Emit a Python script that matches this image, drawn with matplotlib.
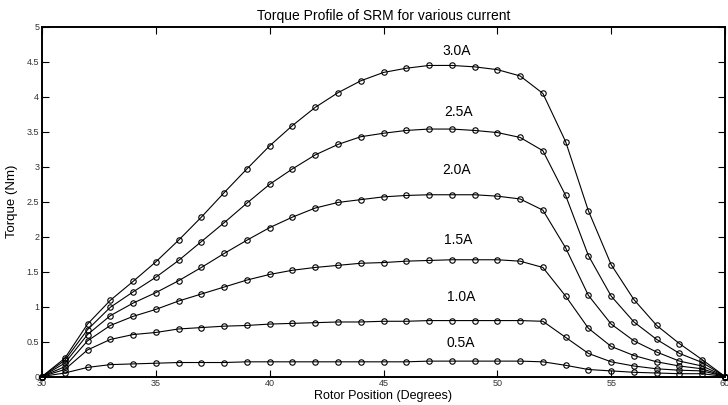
import numpy as np
import matplotlib
matplotlib.use("Agg")
import matplotlib.pyplot as plt

plt.rcParams['font.family'] = ['Liberation Sans', 'DejaVu Sans']

# rotor position in degrees, one sample per degree
position = np.arange(30, 61)

torque_3_0 = [0, 0.26, 0.75, 1.09, 1.36, 1.64, 1.95, 2.28, 2.63, 2.97, 3.30, 3.59, 3.85, 4.06, 4.23, 4.35,
              4.41, 4.45, 4.45, 4.43, 4.39, 4.30, 4.05, 3.36, 2.37, 1.60, 1.10, 0.73, 0.47, 0.24, 0]
torque_2_5 = [0, 0.23, 0.67, 0.99, 1.21, 1.42, 1.66, 1.93, 2.20, 2.48, 2.75, 2.97, 3.17, 3.32, 3.43, 3.48,
              3.52, 3.54, 3.54, 3.52, 3.49, 3.42, 3.23, 2.59, 1.73, 1.15, 0.78, 0.53, 0.33, 0.20, 0]
torque_2_0 = [0, 0.19, 0.60, 0.87, 1.05, 1.20, 1.37, 1.56, 1.76, 1.95, 2.13, 2.28, 2.41, 2.49, 2.53, 2.57,
              2.59, 2.60, 2.60, 2.60, 2.58, 2.54, 2.38, 1.84, 1.16, 0.75, 0.51, 0.35, 0.22, 0.15, 0]
torque_1_5 = [0, 0.14, 0.51, 0.73, 0.86, 0.96, 1.08, 1.18, 1.28, 1.38, 1.46, 1.52, 1.56, 1.59, 1.62, 1.63,
              1.65, 1.66, 1.67, 1.67, 1.67, 1.65, 1.56, 1.15, 0.69, 0.43, 0.30, 0.21, 0.15, 0.11, 0]
torque_1_0 = [0, 0.10, 0.38, 0.53, 0.60, 0.63, 0.68, 0.70, 0.72, 0.73, 0.75, 0.76, 0.77, 0.78, 0.78, 0.79,
              0.79, 0.80, 0.80, 0.80, 0.80, 0.80, 0.79, 0.56, 0.33, 0.21, 0.15, 0.11, 0.09, 0.08, 0]
torque_0_5 = [0, 0.05, 0.13, 0.17, 0.18, 0.19, 0.20, 0.20, 0.20, 0.21, 0.21, 0.21, 0.21, 0.21, 0.21, 0.21,
              0.21, 0.22, 0.22, 0.22, 0.22, 0.22, 0.21, 0.16, 0.10, 0.08, 0.06, 0.05, 0.04, 0.04, 0]

current_labels = ['3.0A', '2.5A', '2.0A', '1.5A', '1.0A', '0.5A']
series = [torque_3_0, torque_2_5, torque_2_0, torque_1_5, torque_1_0, torque_0_5]

# where the current labels sit, in data coordinates
label_x = [48.2, 48.3, 48.2, 48.3, 48.4, 48.4]
label_y = [4.66, 3.78, 2.96, 1.95, 1.14, 0.48]

fig = plt.figure(figsize=(7.28, 4.05), dpi=100)
ax = fig.add_axes([42 / 728, 1 - 376.5 / 405, 683 / 728, 349.5 / 405])

for values in series:
    ax.plot(position, values, color='black', linewidth=0.8, marker='o', markersize=3.9,
            markerfacecolor='none', markeredgecolor='black', markeredgewidth=0.8, clip_on=False)

for text, lx, ly in zip(current_labels, label_x, label_y):
    ax.text(lx, ly, text, fontsize=10, ha='center', va='center')

ax.set_xlim(30, 60)
ax.set_ylim(0, 5)
ax.set_xticks(np.arange(30, 61, 5))
ax.set_yticks(np.arange(0, 5.01, 0.5))
ax.set_yticklabels(['0', '0.5', '1', '1.5', '2', '2.5', '3', '3.5', '4', '4.5', '5'])

ax.tick_params(direction='in', length=5, width=0.8, labelsize=6.5, labelcolor='#333333',
               top=True, right=True, pad=2)
for spine in ax.spines.values():
    spine.set_linewidth(1.4)

ax.set_title('Torque Profile of SRM for various current', fontsize=10, pad=5)
ax.set_xlabel('Rotor Position (Degrees)', fontsize=9, labelpad=1)
ax.set_ylabel('Torque (Nm)', fontsize=9.5, labelpad=6)

fig.savefig('out.png', dpi=100)
